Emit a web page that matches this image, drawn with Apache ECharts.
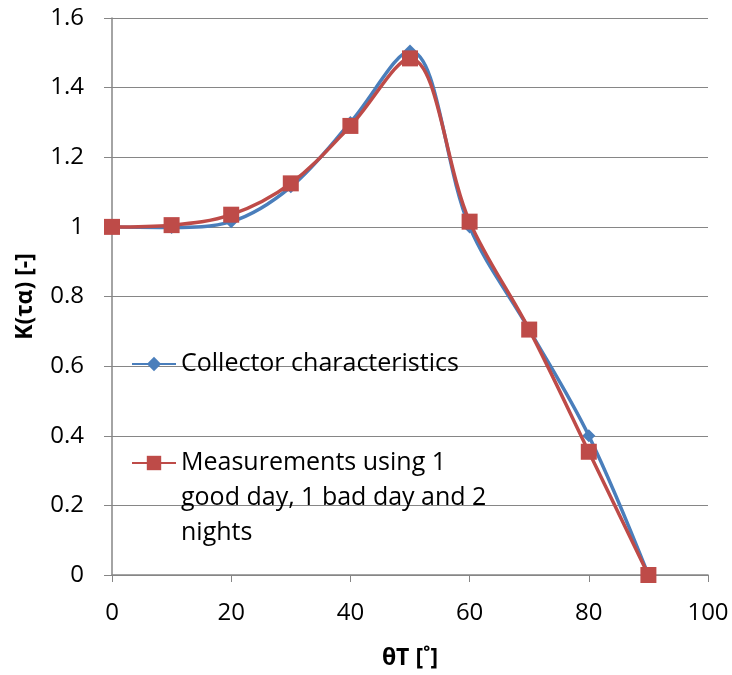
<!DOCTYPE html>
<html><head><meta charset="utf-8">
<script src="https://cdn.jsdelivr.net/npm/echarts@6/dist/echarts.min.js"></script>
<style>html,body{margin:0;padding:0;background:#fff}#c{width:732px;height:675px}</style>
</head><body><div id="c"></div>
<script>
const angles = [0,10,20,30,40,50,60,70,80,90];
const collector = [1.0,0.998,1.015,1.115,1.30,1.505,1.0,0.705,0.40,0.0];
const measured = [1.0,1.005,1.035,1.125,1.29,1.484,1.015,0.705,0.354,0.0];
const seriesNames = ['Collector characteristics','Measurements using 1\ngood day, 1 bad day and 2\nnights'];
const xTicks = [0,20,40,60,80,100];
const yTicks = [0,0.2,0.4,0.6,0.8,1,1.2,1.4,1.6];

const font = 'Open Sans';
const legendText = {fontFamily:font,fontSize:25,color:'#000',lineHeight:35};
const chart = echarts.init(document.getElementById('c'));
chart.setOption({
  animation:false,
  textStyle:{fontFamily:font},
  grid:{left:112,right:24,top:18,bottom:99},
  legend:[
    {orient:'vertical', left:131, top:346.5, padding:0, itemGap:5, itemWidth:44, itemHeight:18,
     textStyle:legendText, data:[seriesNames[0]]},
    {orient:'vertical', left:131, top:375.5, padding:0, itemGap:5, itemWidth:44, itemHeight:18,
     textStyle:legendText, data:[seriesNames[1]], formatter:n=>'\n\n'+n}
  ],
  xAxis:{
    type:'value', min:0, max:100, interval:20,
    name:'θT [˚]', nameLocation:'middle', nameGap:72,
    nameTextStyle:{fontFamily:font,fontSize:23,fontWeight:'bold',color:'#000'},
    axisLine:{lineStyle:{color:'#868686',width:1.5}},
    axisTick:{show:true,length:7,lineStyle:{color:'#868686'}},
    axisLabel:{fontSize:24,color:'#000',margin:26, formatter:v=>xTicks.includes(v)?String(v):''},
    splitLine:{show:false}
  },
  yAxis:{
    type:'value', min:0, max:1.6, interval:0.2,
    name:'K(τα) [-]', nameLocation:'middle', nameGap:75, nameRotate:90,
    nameTextStyle:{fontFamily:font,fontSize:23,fontWeight:'bold',color:'#000'},
    axisLine:{show:true,lineStyle:{color:'#868686',width:1.5}},
    axisTick:{show:true,length:8,lineStyle:{color:'#868686'}},
    axisLabel:{fontSize:24,color:'#000',margin:28, formatter:v=>{const t=yTicks.find(x=>Math.abs(x-v)<1e-6);return t===undefined?'':String(Math.round(t*10)/10);}},
    splitLine:{show:true,lineStyle:{color:'#868686',width:1}}
  },
  series:[
    {name:seriesNames[0], type:'line', smooth:0.35, data:angles.map((a,i)=>[a,collector[i]]),
     symbol:'diamond', symbolSize:13, lineStyle:{color:'#4a7ebb',width:3.5},
     itemStyle:{color:'#4a7ebb'}, z:2},
    {name:seriesNames[1], type:'line', smooth:0.35, data:angles.map((a,i)=>[a,measured[i]]),
     symbol:'rect', symbolSize:16, lineStyle:{color:'#be4b48',width:3.5},
     itemStyle:{color:'#be4b48'}, z:3}
  ]
});
</script></body></html>
